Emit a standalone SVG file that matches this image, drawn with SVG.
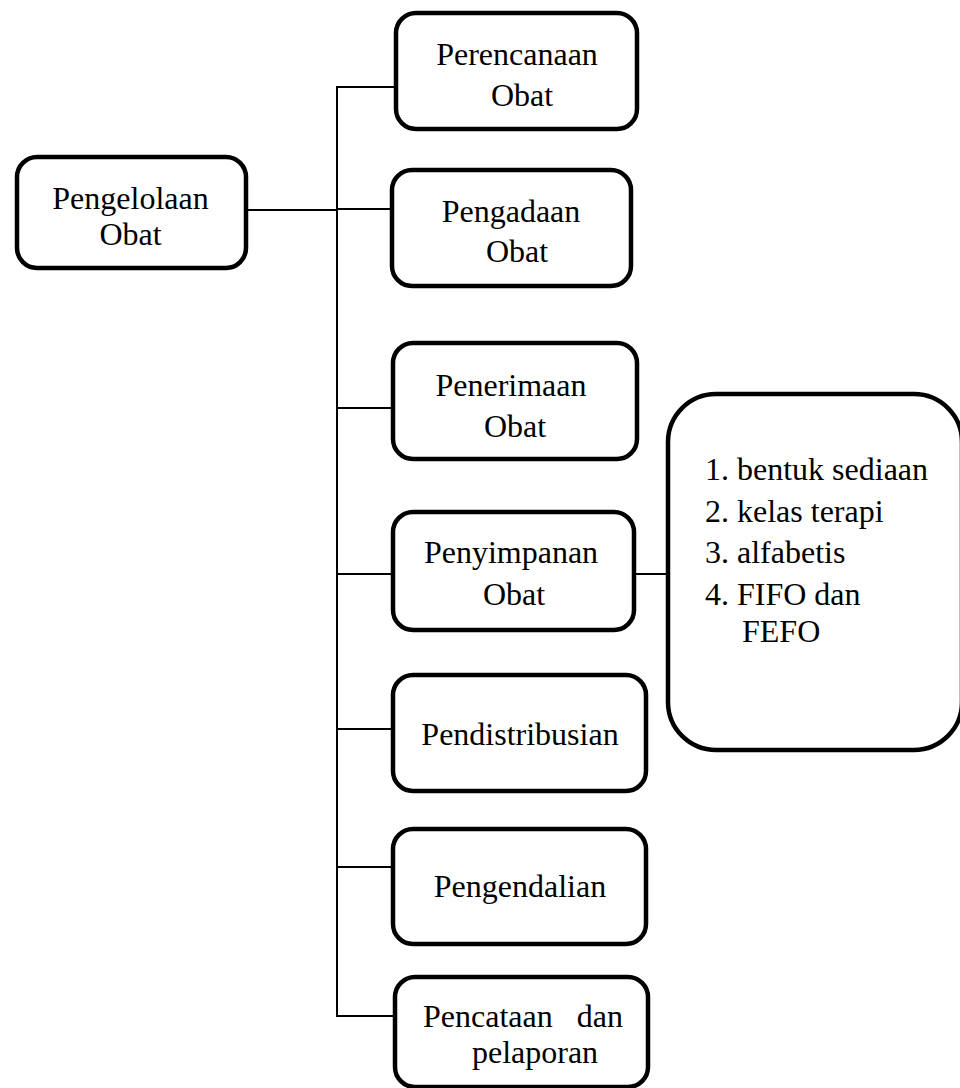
<svg xmlns="http://www.w3.org/2000/svg" width="960" height="1088" viewBox="0 0 960 1088">
<style>
.box{fill:#fff;stroke:#000;stroke-width:4.5}
.t{font-family:"Liberation Serif","Times New Roman",serif;font-size:32px;fill:#000}
.m{text-anchor:middle}
.c{stroke:#000;stroke-width:2;fill:none}
</style>
<rect width="960" height="1088" fill="#fff"/>
<g id="connectors">
<line class="c" x1="246" y1="210" x2="337" y2="210"/>
<line class="c" x1="337" y1="86" x2="337" y2="1017"/>
<line class="c" x1="336" y1="87" x2="396" y2="87"/>
<line class="c" x1="337" y1="209" x2="392" y2="209"/>
<line class="c" x1="337" y1="408" x2="393" y2="408"/>
<line class="c" x1="337" y1="574" x2="393" y2="574"/>
<line class="c" x1="337" y1="729" x2="393" y2="729"/>
<line class="c" x1="337" y1="867" x2="393" y2="867"/>
<line class="c" x1="336" y1="1016" x2="395" y2="1016"/>
<line class="c" x1="634" y1="574" x2="668" y2="574"/>
</g>
<g id="pengelolaan">
<rect class="box" x="17" y="157" width="229" height="111" rx="20"/>
<text class="t m" x="130.5" y="209">Pengelolaan</text>
<text class="t m" x="130.5" y="245">Obat</text>
</g>
<g id="perencanaan">
<rect class="box" x="396" y="13" width="241" height="116" rx="20"/>
<text class="t m" x="517" y="65">Perencanaan</text>
<text class="t m" x="522" y="106">Obat</text>
</g>
<g id="pengadaan">
<rect class="box" x="392" y="170" width="239" height="116" rx="20"/>
<text class="t m" x="511" y="222">Pengadaan</text>
<text class="t m" x="517" y="262">Obat</text>
</g>
<g id="penerimaan">
<rect class="box" x="393" y="343" width="244" height="116" rx="20"/>
<text class="t m" x="511" y="396">Penerimaan</text>
<text class="t m" x="515" y="437">Obat</text>
</g>
<g id="penyimpanan">
<rect class="box" x="393" y="512" width="241" height="118" rx="20"/>
<text class="t m" x="511" y="563">Penyimpanan</text>
<text class="t m" x="514" y="605">Obat</text>
</g>
<g id="pendistribusian">
<rect class="box" x="393" y="675" width="253" height="116" rx="20"/>
<text class="t m" x="520" y="745">Pendistribusian</text>
</g>
<g id="pengendalian">
<rect class="box" x="393" y="829" width="253" height="115" rx="20"/>
<text class="t m" x="520" y="897">Pengendalian</text>
</g>
<g id="pencataan">
<rect class="box" x="395" y="977" width="253" height="110" rx="20"/>
<text class="t" x="423" y="1027">Pencataan</text>
<text class="t" x="623" y="1027" text-anchor="end">dan</text>
<text class="t m" x="535" y="1063">pelaporan</text>
</g>
<g id="penyimpanan-detail">
<rect class="box" x="668" y="394" width="294" height="356" rx="48"/>
<text class="t" x="705" y="480">1. bentuk sediaan</text>
<text class="t" x="705" y="522">2. kelas terapi</text>
<text class="t" x="705" y="563">3. alfabetis</text>
<text class="t" x="705" y="605">4. FIFO dan</text>
<text class="t" x="742" y="642">FEFO</text>
</g>
</svg>
